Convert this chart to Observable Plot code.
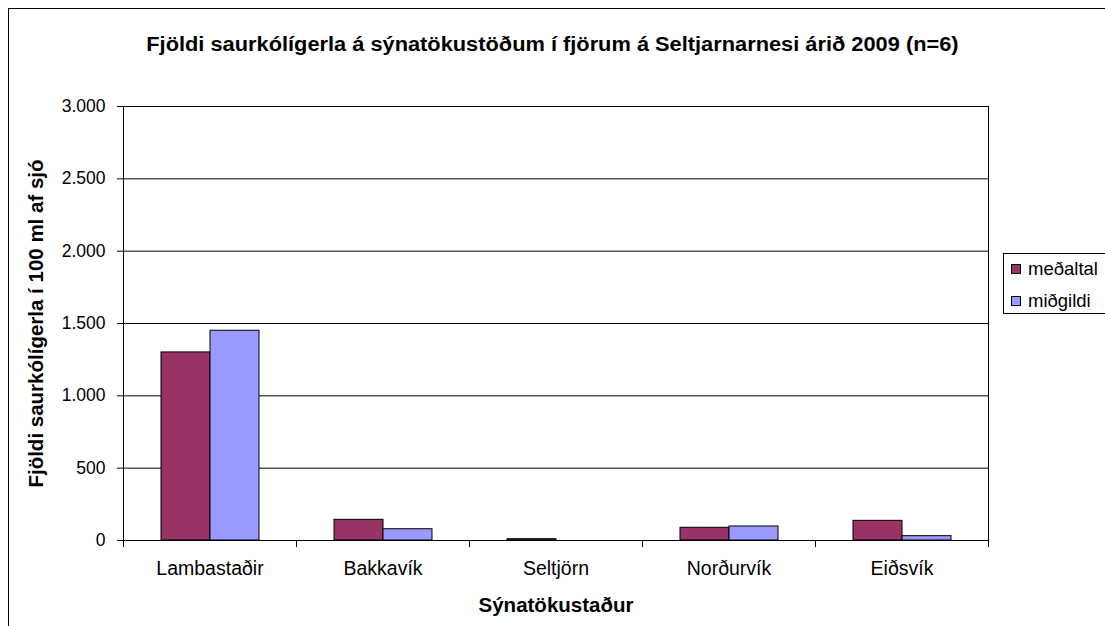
<!DOCTYPE html>
<html>
<head>
<meta charset="utf-8">
<script src="https://cdn.jsdelivr.net/npm/d3@7"></script>
<script src="https://cdn.jsdelivr.net/npm/@observablehq/plot@0.6"></script>
<style>
  html, body { margin: 0; padding: 0; background: #fff; }
  #wrap { position: relative; width: 1105px; height: 626px; overflow: hidden; font-family: "Liberation Sans", Arial, sans-serif; }
  #border { position: absolute; left: 8px; top: 8px; width: 1200px; height: 700px; border-left: 1px solid #000; border-top: 1px solid #000; }
  #title { position: absolute; left: 0; width: 1105px; top: 33px; text-align: center; font-weight: bold; font-size: 20px; color: #000; transform: scaleX(1.09); transform-origin: 553px 0; }
  #chart { position: absolute; left: 0; top: 0; }
  #legend { position: absolute; left: 1003px; top: 253px; width: 130px; height: 59px; border: 1px solid #000; background: #fff; font-size: 18.5px; }
  .item { position: absolute; left: 7px; height: 20px; line-height: 20px; white-space: nowrap; }
  .sw { display: inline-block; width: 8px; height: 8px; border: 1px solid #000; margin-right: 7px; vertical-align: middle; position: relative; top: -1px; }
  g[aria-label="y-axis label"] text { font-weight: bold; font-size: 20.5px; }
  g[aria-label="fx-axis label"] text { font-weight: bold; font-size: 20.5px; }
  g[aria-label="y-axis tick label"] text { font-size: 17.5px; }
  g[aria-label="fx-axis tick label"] text { font-size: 19.5px; }
</style>
</head>
<body>
<div id="wrap">
  <div id="border"></div>
  <div id="title"></div>
  <div id="chart"></div>
  <div id="legend"></div>
</div>
<script>
const titleText = "Fjöldi saurkólígerla á sýnatökustöðum í fjörum á Seltjarnarnesi árið 2009 (n=6)";
const yLabel = "Fjöldi saurkólígerla í 100 ml af sjó";
const xLabel = "Sýnatökustaður";
const places = ["Lambastaðir", "Bakkavík", "Seltjörn", "Norðurvík", "Eiðsvík"];
const seriesNames = ["meðaltal", "miðgildi"];
const meanValues = [1300, 143, 9, 88, 136];
const medianValues = [1450, 78, 0, 97, 30];
const yTicks = [0, 500, 1000, 1500, 2000, 2500, 3000];
const seriesColors = ["#993366", "#9999FF"];

const rows = [];
places.forEach((p, i) => {
  rows.push({place: p, series: seriesNames[0], value: meanValues[i]});
  rows.push({place: p, series: seriesNames[1], value: medianValues[i]});
});

const fmt = d3.formatLocale({decimal: ",", thousands: ".", grouping: [3], currency: ["", ""]}).format(",");

const W = 1105, H = 626, mL = 122, mR = 116, mT = 106, mB = 86;
const plotH = H - mT - mB;

const chart = Plot.plot({
  width: W,
  height: H,
  marginLeft: mL,
  marginRight: mR,
  marginTop: mT,
  marginBottom: mB,
  style: {fontFamily: "Liberation Sans, Arial, sans-serif", fontSize: "18px", color: "#000", background: "transparent", overflow: "visible"},
  fx: {domain: places, padding: 0},
  x: {domain: seriesNames, paddingInner: 0, paddingOuter: 0.735, axis: null},
  y: {domain: [0, 3000], axis: null},
  color: {domain: seriesNames, range: seriesColors},
  marks: [
    Plot.gridY(yTicks, {stroke: "#000", strokeOpacity: 1, strokeWidth: 1}),
    Plot.barY(rows, {fx: "place", x: "series", y: "value", fill: "series", stroke: "#000", strokeWidth: 1}),
    Plot.frame({anchor: "left", fx: () => places[0], stroke: "#000"}),
    Plot.frame({anchor: "right", fx: () => places[places.length - 1], stroke: "#000"}),
    Plot.frame({anchor: "left", insetTop: plotH, insetBottom: -6, stroke: "#000"}),
    Plot.frame({anchor: "right", fx: () => places[places.length - 1], insetTop: plotH, insetBottom: -6, stroke: "#000"}),
    Plot.axisY(yTicks, {anchor: "left", tickSize: 6, tickPadding: 12, tickFormat: fmt, stroke: "#000", label: yLabel, labelAnchor: "center", labelArrow: "none", labelOffset: 95}),
    Plot.axisFx({anchor: "bottom", tickSize: 0, tickPadding: 21, label: xLabel, labelAnchor: "center", labelArrow: "none", labelOffset: 71})
  ]
});
document.getElementById("chart").appendChild(chart);
document.getElementById("title").textContent = titleText;

const legend = document.getElementById("legend");
seriesNames.forEach((s, i) => {
  const it = document.createElement("div");
  it.className = "item";
  it.style.top = (5 + i * 32) + "px";
  const sw = document.createElement("span");
  sw.className = "sw";
  sw.style.background = seriesColors[i];
  it.appendChild(sw);
  it.appendChild(document.createTextNode(s));
  legend.appendChild(it);
});
</script>
</body>
</html>
